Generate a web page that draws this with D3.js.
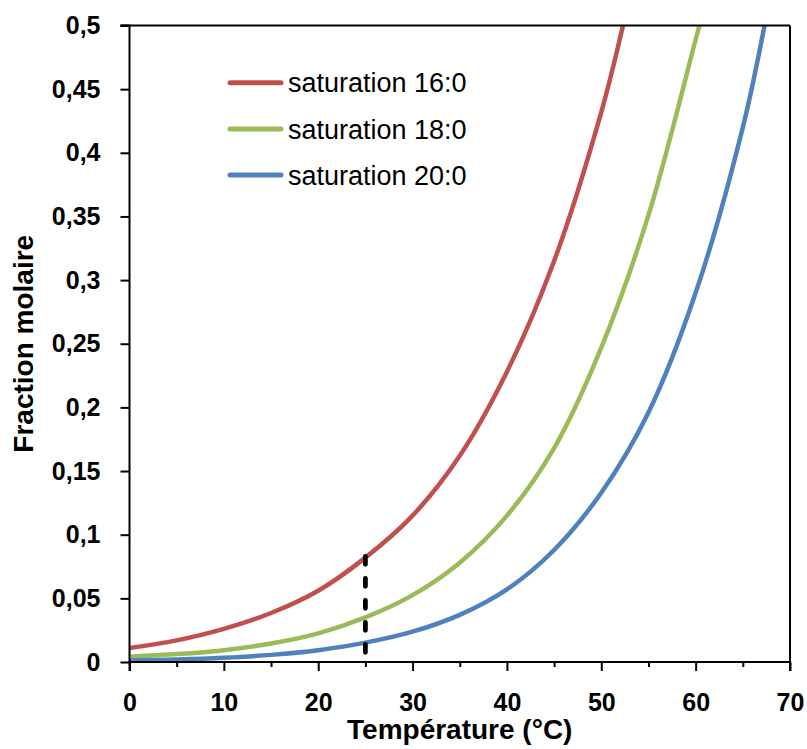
<!DOCTYPE html>
<html>
<head>
<meta charset="utf-8">
<script src="https://cdn.jsdelivr.net/npm/d3@7"></script>
<style>
  html, body { margin: 0; padding: 0; background: #fff; }
  svg { display: block; }
</style>
</head>
<body>
<svg id="chart" width="807" height="749"></svg>
<script>
// ---- data ----
const seriesNames = ["saturation 16:0", "saturation 18:0", "saturation 20:0"];
const seriesColors = ["#C0504D", "#9BBB59", "#4F81BD"];

const temps16 = [0, 5, 10, 15, 20, 25, 30, 35, 40, 45, 50, 52.3];
const frac16  = [0.011, 0.017, 0.026, 0.0385, 0.056, 0.082, 0.115, 0.162, 0.228, 0.315, 0.432, 0.5];

const temps18 = [0, 5, 10, 15, 20, 25, 30, 35, 40, 45, 50, 55, 60, 60.4];
const frac18  = [0.0042, 0.0062, 0.0093, 0.0145, 0.0225, 0.035, 0.0525, 0.078, 0.115, 0.168, 0.247, 0.351, 0.489, 0.5];

const temps20 = [0, 5, 10, 15, 20, 25, 30, 35, 40, 45, 50, 55, 60, 65, 67.3];
const frac20  = [0.0011, 0.0019, 0.0033, 0.0056, 0.0093, 0.0152, 0.0238, 0.037, 0.057, 0.088, 0.133, 0.196, 0.29, 0.42, 0.5];

const xTicks = [0, 10, 20, 30, 40, 50, 60, 70];
const xMinorTicks = [5, 15, 25, 35, 45, 55, 65];
const yTicks = [0, 0.05, 0.1, 0.15, 0.2, 0.25, 0.3, 0.35, 0.4, 0.45, 0.5];
const markerTemp = 25;            // dashed reference line
const markerTop = 0.083;

const xTitle = "Température (°C)";
const yTitle = "Fraction molaire";

// ---- layout ----
const svg = d3.select("#chart");
const mLeft = 129.5, mRight = 790, mTop = 25.5, mBottom = 662;

const x = d3.scaleLinear().domain([0, 70]).range([mLeft, mRight]);
const y = d3.scaleLinear().domain([0, 0.5]).range([mBottom, mTop]);

const fmt = v => String(+v.toFixed(2)).replace(".", ",");
const FONT = "'Liberation Sans', Arial, sans-serif";

svg.append("defs").append("clipPath").attr("id", "plotclip")
  .append("rect").attr("x", mLeft).attr("y", mTop - 1).attr("width", mRight - mLeft).attr("height", mBottom - mTop + 1);

// series
const series = [
  { name: seriesNames[0], color: seriesColors[0], t: temps16, v: frac16 },
  { name: seriesNames[1], color: seriesColors[1], t: temps18, v: frac18 },
  { name: seriesNames[2], color: seriesColors[2], t: temps20, v: frac20 }
];

const line = d3.line()
  .x(d => x(d[0]))
  .y(d => y(d[1]))
  .curve(d3.curveCatmullRom.alpha(0.5));

const g = svg.append("g").attr("clip-path", "url(#plotclip)");
series.forEach(s => {
  g.append("path")
    .datum(s.t.map((t, i) => [t, s.v[i]]))
    .attr("d", line)
    .attr("fill", "none")
    .attr("stroke", s.color)
    .attr("stroke-width", 4.5);
});

// dashed marker
svg.append("line")
  .attr("x1", x(markerTemp)).attr("x2", x(markerTemp))
  .attr("y1", y(markerTop)).attr("y2", y(0))
  .attr("stroke", "#000").attr("stroke-width", 4.8)
  .attr("stroke-dasharray", "8,14").attr("stroke-linecap", "round");

// axes
const yAxis = d3.axisLeft(y).tickValues(yTicks).tickSize(9).tickPadding(20).tickFormat(fmt);
const yg = svg.append("g").attr("transform", `translate(${mLeft},0)`).call(yAxis);
const xAxis = d3.axisBottom(x).tickValues(xTicks).tickSize(9).tickPadding(22).tickFormat(d => d);
const xg = svg.append("g").attr("transform", `translate(0,${mBottom})`).call(xAxis);
const xmg = svg.append("g").attr("transform", `translate(0,${mBottom})`)
  .call(d3.axisBottom(x).tickValues(xMinorTicks).tickSize(5).tickFormat(""));
xmg.select(".domain").remove();

[yg, xg, xmg].forEach(a => {
  a.selectAll(".domain").attr("stroke", "#000").attr("stroke-width", 2);
  a.selectAll(".tick line").attr("stroke", "#000").attr("stroke-width", 2);
});
yg.selectAll(".domain").attr("d", `M-9,${mTop}H0V${mBottom}`);
xg.selectAll(".domain").attr("d", `M${mLeft},9V0H${mRight}V9`);

yg.selectAll(".tick text")
  .attr("font-family", FONT).attr("font-size", 25).attr("font-weight", "bold").attr("fill", "#000");
xg.selectAll(".tick text")
  .attr("font-family", FONT).attr("font-size", 25).attr("font-weight", "bold").attr("fill", "#000");

// frame: top and right
svg.append("line").attr("x1", mLeft - 9).attr("x2", mRight).attr("y1", mTop).attr("y2", mTop)
  .attr("stroke", "#000").attr("stroke-width", 2);
svg.append("line").attr("x1", mRight).attr("x2", mRight).attr("y1", mTop).attr("y2", mBottom)
  .attr("stroke", "#000").attr("stroke-width", 2);

// axis titles
svg.append("text")
  .attr("x", (mLeft + mRight) / 2).attr("y", 739)
  .attr("text-anchor", "middle")
  .attr("font-family", FONT).attr("font-size", 28).attr("font-weight", "bold")
  .text(xTitle);
svg.append("text")
  .attr("transform", `translate(33,${(mTop + mBottom) / 2}) rotate(-90)`)
  .attr("text-anchor", "middle")
  .attr("font-family", FONT).attr("font-size", 28).attr("font-weight", "bold")
  .text(yTitle);

// legend
const legendY = [82.7, 129, 175];
series.forEach((s, i) => {
  svg.append("line")
    .attr("x1", 230).attr("x2", 281)
    .attr("y1", legendY[i]).attr("y2", legendY[i])
    .attr("stroke", s.color).attr("stroke-width", 5).attr("stroke-linecap", "round");
  svg.append("text")
    .attr("x", 288).attr("y", legendY[i] + 9.5)
    .attr("font-family", FONT).attr("font-size", 27)
    .attr("fill", "#000")
    .text(s.name);
});
</script>
</body>
</html>
